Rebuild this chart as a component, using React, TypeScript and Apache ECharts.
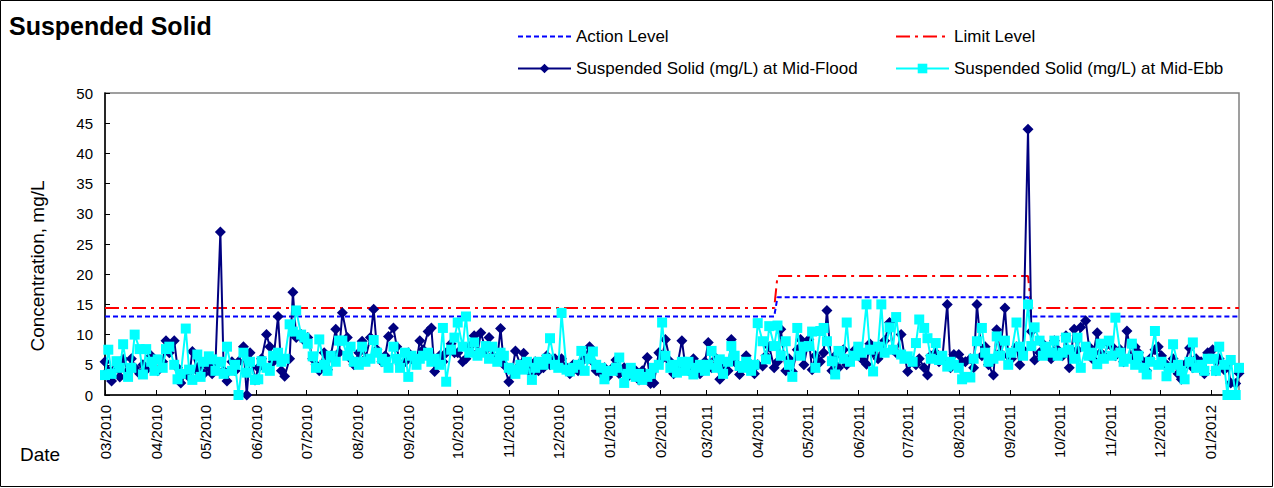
import React, { useEffect, useRef } from "react";
import * as echarts from "echarts";

// Axis range: 01/03/2010 (day 0) to 18/01/2012 (day 688)
const START_UTC = Date.UTC(2010, 2, 1);
const END_DAY = 688;

const tickLabels = [
  "03/2010", "04/2010", "05/2010", "06/2010", "07/2010", "08/2010", "09/2010",
  "10/2010", "11/2010", "12/2010", "01/2011", "02/2011", "03/2011", "04/2011",
  "05/2011", "06/2011", "07/2011", "08/2011", "09/2011", "10/2011", "11/2011",
  "12/2011", "01/2012",
];

// Monitoring days: Mon / Wed / Fri (day offsets from 01/03/2010, a Monday)
const samplingWeekdays = [0, 2, 4];

// Suspended Solid (mg/L) at Mid-Flood, one value per sampling day, by month
const midFlood = [
  5.5, 4.0, 2.3, 4.5, 3.0, 5.9, 4.0, 6.0, 4.5, 3.5, 5.0, 4.2, 6.5, 5.5, // 03/2010
  4.0, 5.5, 9.0, 7.0, 9.0, 4.5, 2.0, 3.5, 3.0, 7.2, 4.0, 5.0, 3.5, // 04/2010
  4.5, 3.5, 5.0, 27.0, 4.0, 2.3, 5.5, 4.0, 5.5, 8.0, 0.0, 7.0, 2.5, // 05/2010
  4.5, 6.0, 10.0, 8.0, 5.5, 13.0, 4.0, 3.1, 6.0, 17.0, 9.5, 10.0, 9.0, // 06/2010
  9.5, 6.0, 5.0, 4.0, 7.0, 4.2, 6.5, 10.9, 7.0, 13.6, 9.5, 6.0, 5.0, // 07/2010
  7.0, 8.9, 6.0, 9.5, 14.2, 7.5, 5.5, 6.5, 9.7, 11.1, 8.0, 5.0, 5.5, // 08/2010
  7.0, 6.0, 5.5, 9.0, 7.5, 10.5, 11.1, 3.9, 6.5, 5.5, 7.0, 8.5, 7.0, // 09/2010
  7.0, 5.5, 6.0, 8.0, 9.8, 7.0, 10.3, 7.5, 9.5, 6.5, 6.0, 11.0, 5.0, // 10/2010
  2.2, 4.0, 7.3, 5.0, 6.9, 4.5, 3.5, 5.5, 4.0, 4.5, 6.5, 5.0, 6.0, // 11/2010
  5.0, 6.0, 4.5, 3.5, 5.0, 4.0, 5.5, 6.4, 8.0, 5.5, 4.0, 3.5, 4.5, 3.0, // 12/2010
  4.5, 5.8, 3.5, 4.5, 3.0, 3.5, 4.0, 2.5, 4.0, 6.2, 1.9, 2.0, 7.0, // 01/2011
  6.0, 9.2, 5.5, 3.5, 4.5, 9.0, 5.0, 4.0, 6.0, 4.5, 3.5, 5.5, // 02/2011
  8.7, 4.5, 6.0, 2.6, 5.0, 4.0, 9.2, 5.5, 3.4, 4.5, 6.5, 5.0, 3.5, // 03/2011
  5.0, 4.8, 6.5, 8.0, 4.5, 5.5, 10.9, 4.0, 6.0, 3.9, 7.5, 9.2, 5.0, // 04/2011
  9.2, 4.2, 6.5, 5.5, 7.0, 14.0, 4.0, 6.5, 4.5, 7.5, 5.0, 6.0, 7.5, // 05/2011
  7.0, 6.0, 5.1, 8.5, 7.0, 6.0, 8.0, 9.0, 12.0, 7.5, 7.0, 10.0, 6.5, // 06/2011
  3.9, 5.5, 5.0, 6.0, 4.5, 3.3, 6.5, 7.0, 5.5, 6.0, 15.0, 4.5, 6.7, // 07/2011
  6.7, 5.5, 5.5, 6.0, 4.5, 15.0, 6.5, 8.0, 5.0, 3.3, 10.8, 7.0, 14.4, 6.5, // 08/2011
  6.0, 8.0, 5.0, 7.5, 44.0, 10.5, 5.8, 7.0, 8.5, 7.5, 6.0, 9.0, 7.5, // 09/2011
  6.5, 9.8, 4.5, 10.9, 7.5, 11.2, 12.3, 8.0, 6.0, 10.3, 7.0, 6.5, 8.5, // 10/2011
  8.0, 6.5, 7.5, 5.5, 10.6, 6.0, 8.0, 7.0, 5.5, 4.0, 6.0, 7.5, 8.0, // 11/2011
  6.5, 5.0, 4.5, 6.0, 3.5, 2.6, 5.0, 7.8, 4.5, 6.0, 5.5, 3.5, 7.0, // 12/2011
  7.5, 4.0, 6.0, 4.2, 5.0, 2.0, 1.9, 3.6, // 01/2012
];

// Suspended Solid (mg/L) at Mid-Ebb
const midEbb = [
  3.3, 7.5, 3.5, 5.6, 4.5, 8.4, 3.0, 4.5, 10.0, 7.6, 3.4, 7.6, 5.5, 4.0, // 03/2010
  5.9, 4.5, 7.6, 8.0, 5.0, 2.6, 3.5, 11.0, 4.2, 2.5, 6.7, 3.0, 5.5, // 04/2010
  6.4, 5.9, 4.0, 5.5, 3.5, 8.0, 4.0, 5.0, 0.0, 7.0, 3.7, 5.5, 2.5, // 05/2010
  2.6, 5.6, 4.5, 4.0, 6.5, 7.0, 5.5, 6.0, 11.7, 10.5, 14.0, 10.0, 9.5, // 06/2010
  8.5, 6.4, 4.5, 9.2, 5.0, 4.0, 6.5, 5.5, 9.0, 9.0, 6.5, 8.0, 5.5, // 07/2010
  5.0, 8.0, 5.5, 6.0, 9.1, 7.0, 6.0, 5.5, 4.5, 8.0, 6.0, 4.5, 7.0, // 08/2010
  3.0, 6.5, 5.0, 6.0, 6.5, 7.0, 5.5, 6.0, 5.0, 11.1, 2.2, 7.5, 9.5, // 09/2010
  12.0, 8.0, 13.0, 7.0, 8.7, 6.5, 7.0, 8.1, 6.0, 8.0, 5.5, 7.0, 6.5, // 10/2010
  4.5, 4.2, 3.5, 5.0, 4.2, 5.5, 2.5, 4.5, 5.5, 5.0, 6.0, 9.4, 5.0, // 11/2010
  4.5, 13.6, 4.2, 3.9, 4.5, 5.0, 7.3, 4.0, 6.0, 7.2, 5.0, 4.5, 2.6, 4.0, // 12/2010
  4.0, 4.5, 6.2, 2.0, 3.5, 4.5, 3.0, 3.5, 2.5, 3.0, 3.5, 4.5, 5.0, // 01/2011
  12.0, 6.5, 4.5, 5.0, 3.7, 5.5, 4.0, 5.5, 3.4, 4.5, 5.0, 4.0, // 02/2011
  5.0, 7.3, 4.5, 5.9, 3.5, 5.5, 8.1, 6.5, 4.8, 4.5, 5.5, 4.0, 5.0, // 03/2011
  11.9, 8.9, 5.9, 11.4, 8.1, 11.5, 6.5, 8.9, 5.0, 3.0, 11.1, 6.5, 8.0, // 04/2011
  8.1, 10.5, 4.5, 10.6, 11.1, 8.9, 5.6, 3.4, 7.3, 6.0, 12.0, 5.5, 6.5, // 05/2011
  8.0, 7.0, 15.0, 7.5, 3.9, 8.0, 15.0, 7.0, 11.2, 7.5, 12.9, 6.7, 6.0, // 06/2011
  6.4, 5.5, 8.6, 12.5, 11.1, 9.4, 6.0, 8.6, 5.8, 6.5, 4.7, 5.5, 5.0, // 07/2011
  4.5, 2.6, 3.0, 2.9, 6.0, 8.9, 11.1, 7.0, 5.5, 6.0, 9.7, 6.5, 9.0, 5.0, // 08/2011
  7.0, 12.0, 8.0, 6.5, 15.0, 8.1, 11.2, 9.0, 6.5, 8.0, 7.0, 9.0, 6.5, // 09/2011
  7.0, 9.5, 7.5, 6.0, 9.5, 4.5, 8.0, 6.5, 7.0, 5.1, 8.5, 6.0, 9.0, // 10/2011
  6.5, 12.8, 7.0, 5.5, 6.0, 8.5, 5.0, 6.5, 4.5, 3.4, 5.5, 10.6, 5.0, // 11/2011
  5.5, 3.1, 4.5, 8.4, 5.0, 4.0, 2.6, 5.5, 8.7, 4.5, 5.0, 4.0, 6.0, // 12/2011
  6.0, 4.0, 8.0, 5.0, 0.0, 5.8, 0.0, 4.5, // 01/2012
];

// Action / Limit levels: [day offset, mg/L]
const actionLevel = [[0, 13], [406, 13], [408, 16.2], [560, 16.2], [562, 13], [688, 13]];
const limitLevel = [[0, 14.4], [406, 14.4], [408, 19.7], [560, 19.7], [562, 14.4], [688, 14.4]];

const FONT = "Arial, 'Liberation Sans', sans-serif";

function dayOf(label: string): number {
  const [mm, yyyy] = label.split("/").map(Number);
  return Math.round((Date.UTC(yyyy, mm - 1, 1) - START_UTC) / 86400000);
}

function samplingDays(): number[] {
  const out: number[] = [];
  for (let d = 0; d <= END_DAY; d++) if (samplingWeekdays.includes(d % 7)) out.push(d);
  return out;
}

export default function App() {
  const ref = useRef<HTMLDivElement>(null);
  useEffect(() => {
    if (!ref.current) return;
    const chart = echarts.init(ref.current, undefined, { renderer: "svg" });
    const days = samplingDays();
    const floodData = midFlood.slice(0, days.length).map((v, i) => [days[i], v]);
    const ebbData = midEbb.slice(0, days.length).map((v, i) => [days[i], v]);
    const tickDays = tickLabels.map(dayOf);
    const labelByDay: Record<number, string> = {};
    tickLabels.forEach((l, i) => (labelByDay[tickDays[i]] = l));

    const legendCommon = {
      orient: "vertical", top: 28, padding: 0, itemWidth: 53, itemHeight: 12, itemGap: 15,
      textStyle: { fontSize: 17, fontFamily: FONT, color: "#000" },
    };

    chart.setOption({
      animation: false,
      textStyle: { fontFamily: FONT, color: "#000" },
      grid: {
        left: 105, top: 93, right: 35, bottom: 93,
        show: true, borderColor: "#808080", borderWidth: 1.5, backgroundColor: "transparent",
      },
      legend: [
        {
          ...legendCommon, left: 517,
          data: [
            { name: "Action Level", itemStyle: { opacity: 0 } },
            { name: "Suspended Solid (mg/L) at Mid-Flood" },
          ],
        },
        {
          ...legendCommon, left: 895,
          data: [
            { name: "Limit Level", itemStyle: { opacity: 0 } },
            { name: "Suspended Solid (mg/L) at Mid-Ebb" },
          ],
        },
      ],
      xAxis: {
        type: "value", min: 0, max: END_DAY,
        axisLine: { show: true, onZero: false, lineStyle: { color: "#000", width: 1.5 } },
        axisTick: { show: true, inside: true, length: 5, customValues: tickDays, lineStyle: { color: "#000" } },
        axisLabel: {
          customValues: tickDays, rotate: 90, margin: 10, fontSize: 15, color: "#000", fontFamily: FONT,
          formatter: (v: number) => labelByDay[Math.round(v)] ?? "",
        },
        splitLine: { show: false },
      },
      yAxis: {
        type: "value", min: 0, max: 50, interval: 5,
        axisLine: { show: true, lineStyle: { color: "#000", width: 1.5 } },
        axisTick: { show: true, inside: true, length: 5, lineStyle: { color: "#000" } },
        axisLabel: { fontSize: 15, color: "#000", margin: 12, fontFamily: FONT },
        splitLine: { show: false },
      },
      series: [
        {
          name: "Action Level", type: "line", data: actionLevel, symbol: "none",
          lineStyle: { color: "#0000FF", width: 2, type: [5, 3] }, itemStyle: { color: "#0000FF" }, z: 2,
        },
        {
          name: "Limit Level", type: "line", data: limitLevel, symbol: "none",
          lineStyle: { color: "#FF0000", width: 2, type: [14, 5, 3, 5] }, itemStyle: { color: "#FF0000" }, z: 2,
        },
        {
          name: "Suspended Solid (mg/L) at Mid-Flood", type: "line", data: floodData,
          symbol: "diamond", symbolSize: 11,
          lineStyle: { color: "#000080", width: 2 }, itemStyle: { color: "#000080" }, z: 3,
        },
        {
          name: "Suspended Solid (mg/L) at Mid-Ebb", type: "line", data: ebbData,
          symbol: "rect", symbolSize: 10,
          lineStyle: { color: "#00FFFF", width: 2 }, itemStyle: { color: "#00FFFF" }, z: 4,
        },
      ],
      graphic: [
        {
          type: "rect", silent: true, z: -1,
          shape: { x: 0.5, y: 0.5, width: 1272, height: 486 },
          style: { fill: "none", stroke: "#000", lineWidth: 1 },
        },
        {
          type: "text", left: 9, top: 13,
          style: { text: "Suspended Solid", font: `bold 25px ${FONT}`, fill: "#000" },
        },
        {
          type: "text", left: 20, top: 445,
          style: { text: "Date", font: `19px ${FONT}`, fill: "#000" },
        },
        {
          type: "text", x: 37, y: 266, rotation: Math.PI / 2,
          style: {
            text: "Concentration, mg/L", font: `19px ${FONT}`, fill: "#000",
            align: "center", verticalAlign: "middle",
          },
        },
      ],
    });
    return () => chart.dispose();
  }, []);
  return (
    <div
      ref={ref}
      style={{ position: "absolute", left: 0, top: 0, width: 1274, height: 488, background: "#fff" }}
    />
  );
}
